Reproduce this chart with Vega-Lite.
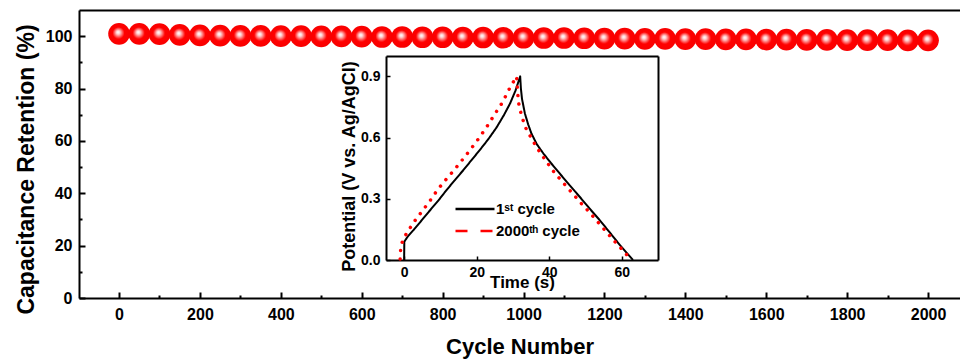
{
  "$schema": "https://vega.github.io/schema/vega-lite/v6.json",
  "autosize": {"type": "none"},
  "padding": {"left": 79, "top": 10, "right": 0, "bottom": 62},
  "width": 881,
  "height": 288,
  "background": "white",
  "config": {
    "view": {"stroke": null},
    "axis": {
      "labelFont": "Liberation Sans", "titleFont": "Liberation Sans",
      "labelFontWeight": "bold", "titleFontWeight": "bold",
      "labelColor": "black", "titleColor": "black",
      "domainColor": "black", "tickColor": "black", "grid": false,
      "labelOverlap": false, "labelFlush": false, "labelBound": false
    }
  },
  "datasets": {
    "main": [
      {"cycle": 0, "retention": 100.9}, {"cycle": 50, "retention": 100.9}, {"cycle": 100, "retention": 100.8},
      {"cycle": 150, "retention": 100.5}, {"cycle": 200, "retention": 100.3}, {"cycle": 250, "retention": 100.2},
      {"cycle": 300, "retention": 100.1}, {"cycle": 350, "retention": 100.1}, {"cycle": 400, "retention": 100.0},
      {"cycle": 450, "retention": 100.0}, {"cycle": 500, "retention": 99.9}, {"cycle": 550, "retention": 99.9},
      {"cycle": 600, "retention": 99.8}, {"cycle": 650, "retention": 99.7}, {"cycle": 700, "retention": 99.7},
      {"cycle": 750, "retention": 99.6}, {"cycle": 800, "retention": 99.6}, {"cycle": 850, "retention": 99.5},
      {"cycle": 900, "retention": 99.5}, {"cycle": 950, "retention": 99.4}, {"cycle": 1000, "retention": 99.4},
      {"cycle": 1050, "retention": 99.3}, {"cycle": 1100, "retention": 99.3}, {"cycle": 1150, "retention": 99.2},
      {"cycle": 1200, "retention": 99.1}, {"cycle": 1250, "retention": 99.1}, {"cycle": 1300, "retention": 99.0},
      {"cycle": 1350, "retention": 99.0}, {"cycle": 1400, "retention": 98.9}, {"cycle": 1450, "retention": 98.9},
      {"cycle": 1500, "retention": 98.8}, {"cycle": 1550, "retention": 98.8}, {"cycle": 1600, "retention": 98.7},
      {"cycle": 1650, "retention": 98.7}, {"cycle": 1700, "retention": 98.6}, {"cycle": 1750, "retention": 98.6},
      {"cycle": 1800, "retention": 98.5}, {"cycle": 1850, "retention": 98.5}, {"cycle": 1900, "retention": 98.5},
      {"cycle": 1950, "retention": 98.4}, {"cycle": 2000, "retention": 98.4}
    ],
    "inset": [
      {"i": 0, "t": 0, "v": 0, "series": "1ˢᵗ cycle"},
      {"i": 1, "t": 0.05, "v": 0.09, "series": "1ˢᵗ cycle"},
      {"i": 2, "t": 1.0, "v": 0.115, "series": "1ˢᵗ cycle"},
      {"i": 3, "t": 2.6, "v": 0.147, "series": "1ˢᵗ cycle"},
      {"i": 4, "t": 5.0, "v": 0.198, "series": "1ˢᵗ cycle"},
      {"i": 5, "t": 7.2, "v": 0.245, "series": "1ˢᵗ cycle"},
      {"i": 6, "t": 9.5, "v": 0.293, "series": "1ˢᵗ cycle"},
      {"i": 7, "t": 11.7, "v": 0.343, "series": "1ˢᵗ cycle"},
      {"i": 8, "t": 14.0, "v": 0.392, "series": "1ˢᵗ cycle"},
      {"i": 9, "t": 16.3, "v": 0.44, "series": "1ˢᵗ cycle"},
      {"i": 10, "t": 18.6, "v": 0.49, "series": "1ˢᵗ cycle"},
      {"i": 11, "t": 20.9, "v": 0.54, "series": "1ˢᵗ cycle"},
      {"i": 12, "t": 23.2, "v": 0.592, "series": "1ˢᵗ cycle"},
      {"i": 13, "t": 25.5, "v": 0.65, "series": "1ˢᵗ cycle"},
      {"i": 14, "t": 27.5, "v": 0.71, "series": "1ˢᵗ cycle"},
      {"i": 15, "t": 29.2, "v": 0.767, "series": "1ˢᵗ cycle"},
      {"i": 16, "t": 30.7, "v": 0.83, "series": "1ˢᵗ cycle"},
      {"i": 17, "t": 32.0, "v": 0.9, "series": "1ˢᵗ cycle"},
      {"i": 18, "t": 32.2, "v": 0.84, "series": "1ˢᵗ cycle"},
      {"i": 19, "t": 32.5, "v": 0.79, "series": "1ˢᵗ cycle"},
      {"i": 20, "t": 33.3, "v": 0.718, "series": "1ˢᵗ cycle"},
      {"i": 21, "t": 34.2, "v": 0.665, "series": "1ˢᵗ cycle"},
      {"i": 22, "t": 35.1, "v": 0.62, "series": "1ˢᵗ cycle"},
      {"i": 23, "t": 36.6, "v": 0.567, "series": "1ˢᵗ cycle"},
      {"i": 24, "t": 38.4, "v": 0.522, "series": "1ˢᵗ cycle"},
      {"i": 25, "t": 40.5, "v": 0.475, "series": "1ˢᵗ cycle"},
      {"i": 26, "t": 42.9, "v": 0.424, "series": "1ˢᵗ cycle"},
      {"i": 27, "t": 45.6, "v": 0.367, "series": "1ˢᵗ cycle"},
      {"i": 28, "t": 48.4, "v": 0.31, "series": "1ˢᵗ cycle"},
      {"i": 29, "t": 51.1, "v": 0.253, "series": "1ˢᵗ cycle"},
      {"i": 30, "t": 53.9, "v": 0.196, "series": "1ˢᵗ cycle"},
      {"i": 31, "t": 56.7, "v": 0.135, "series": "1ˢᵗ cycle"},
      {"i": 32, "t": 59.5, "v": 0.073, "series": "1ˢᵗ cycle"},
      {"i": 33, "t": 61.3, "v": 0.036, "series": "1ˢᵗ cycle"},
      {"i": 34, "t": 63.1, "v": 0, "series": "1ˢᵗ cycle"},
      {"i": 0, "t": -1.1, "v": 0.005, "series": "2000ᵗʰ cycle"},
      {"i": 1, "t": -0.9, "v": 0.073, "series": "2000ᵗʰ cycle"},
      {"i": 2, "t": 0.55, "v": 0.127, "series": "2000ᵗʰ cycle"},
      {"i": 3, "t": 2.57, "v": 0.183, "series": "2000ᵗʰ cycle"},
      {"i": 4, "t": 4.86, "v": 0.237, "series": "2000ᵗʰ cycle"},
      {"i": 5, "t": 6.97, "v": 0.286, "series": "2000ᵗʰ cycle"},
      {"i": 6, "t": 9.17, "v": 0.343, "series": "2000ᵗʰ cycle"},
      {"i": 7, "t": 11.56, "v": 0.395, "series": "2000ᵗʰ cycle"},
      {"i": 8, "t": 13.76, "v": 0.44, "series": "2000ᵗʰ cycle"},
      {"i": 9, "t": 16.15, "v": 0.493, "series": "2000ᵗʰ cycle"},
      {"i": 10, "t": 18.35, "v": 0.543, "series": "2000ᵗʰ cycle"},
      {"i": 11, "t": 20.7, "v": 0.599, "series": "2000ᵗʰ cycle"},
      {"i": 12, "t": 22.9, "v": 0.656, "series": "2000ᵗʰ cycle"},
      {"i": 13, "t": 25.1, "v": 0.718, "series": "2000ᵗʰ cycle"},
      {"i": 14, "t": 27.2, "v": 0.775, "series": "2000ᵗʰ cycle"},
      {"i": 15, "t": 28.8, "v": 0.832, "series": "2000ᵗʰ cycle"},
      {"i": 16, "t": 30.6, "v": 0.888, "series": "2000ᵗʰ cycle"},
      {"i": 17, "t": 31.0, "v": 0.9, "series": "2000ᵗʰ cycle"},
      {"i": 18, "t": 31.5, "v": 0.775, "series": "2000ᵗʰ cycle"},
      {"i": 19, "t": 32.4, "v": 0.705, "series": "2000ᵗʰ cycle"},
      {"i": 20, "t": 33.6, "v": 0.645, "series": "2000ᵗʰ cycle"},
      {"i": 21, "t": 35.4, "v": 0.587, "series": "2000ᵗʰ cycle"},
      {"i": 22, "t": 37.2, "v": 0.535, "series": "2000ᵗʰ cycle"},
      {"i": 23, "t": 39.3, "v": 0.481, "series": "2000ᵗʰ cycle"},
      {"i": 24, "t": 41.4, "v": 0.429, "series": "2000ᵗʰ cycle"},
      {"i": 25, "t": 43.9, "v": 0.378, "series": "2000ᵗʰ cycle"},
      {"i": 26, "t": 46.3, "v": 0.329, "series": "2000ᵗʰ cycle"},
      {"i": 27, "t": 48.7, "v": 0.28, "series": "2000ᵗʰ cycle"},
      {"i": 28, "t": 51.2, "v": 0.232, "series": "2000ᵗʰ cycle"},
      {"i": 29, "t": 53.7, "v": 0.18, "series": "2000ᵗʰ cycle"},
      {"i": 30, "t": 56.1, "v": 0.131, "series": "2000ᵗʰ cycle"},
      {"i": 31, "t": 58.5, "v": 0.082, "series": "2000ᵗʰ cycle"},
      {"i": 32, "t": 61.1, "v": 0.033, "series": "2000ᵗʰ cycle"},
      {"i": 33, "t": 62.3, "v": 0.0, "series": "2000ᵗʰ cycle"}
    ]
  },
  "layer": [
    {
      "data": {"name": "main"},
      "mark": {
        "type": "point", "filled": true, "size": 470, "opacity": 1, "strokeWidth": 0,
        "fill": {
          "gradient": "radial", "x1": 0.45, "y1": 0.42, "r1": 0, "x2": 0.5, "y2": 0.5, "r2": 0.5,
          "stops": [
            {"offset": 0, "color": "#ffffff"},
            {"offset": 0.15, "color": "#ffd8d8"},
            {"offset": 0.55, "color": "#ff0000"},
            {"offset": 1, "color": "#f80000"}
          ]
        }
      },
      "encoding": {
        "x": {
          "field": "cycle", "type": "quantitative",
          "scale": {"domain": [-99, 2079], "nice": false, "zero": false},
          "axis": {
            "orient": "bottom",
            "values": [0, 100, 200, 300, 400, 500, 600, 700, 800, 900, 1000, 1100, 1200, 1300, 1400, 1500, 1600, 1700, 1800, 1900, 2000],
            "format": "d",
            "labelExpr": "datum.value % 200 === 0 ? datum.label : ''",
            "tickSize": {"condition": {"test": "datum.value % 200 === 0", "value": -6}, "value": -3},
            "tickWidth": 2, "domainWidth": 2,
            "labelFontSize": 16, "labelPadding": 14,
            "title": "Cycle Number", "titleFontSize": 22,
            "titleBaseline": "alphabetic", "titleY": 55
          }
        },
        "y": {
          "field": "retention", "type": "quantitative",
          "scale": {"domain": [0, 110], "nice": false, "zero": false},
          "axis": {
            "orient": "left",
            "values": [0, 10, 20, 30, 40, 50, 60, 70, 80, 90, 100],
            "labelExpr": "datum.value % 20 === 0 ? datum.label : ''",
            "tickSize": {"condition": {"test": "datum.value % 20 === 0", "value": -6}, "value": -3},
            "tickWidth": 2, "domainWidth": 2,
            "labelFontSize": 16, "labelPadding": 13,
            "title": "Capacitance Retention (%)", "titleFontSize": 23,
            "titleBaseline": "alphabetic", "titleAlign": "center", "titleAngle": -90,
            "titleX": -46, "titleY": 159
          }
        }
      }
    },
    {
      "data": {"name": "inset"},
      "transform": [{"filter": "datum.series === '1ˢᵗ cycle'"}],
      "mark": {"type": "line", "strokeWidth": 2, "strokeJoin": "round"},
      "encoding": {
        "x": {
          "field": "t", "type": "quantitative",
          "scale": {"domain": [-5, 70], "range": [307, 579], "nice": false, "zero": false},
          "axis": {
            "orient": "bottom", "offset": -38, "values": [0, 20, 40, 60],
            "tickSize": -4, "tickWidth": 1.5, "domainWidth": 2,
            "labelFontSize": 14, "labelPadding": 9,
            "title": "Time (s)", "titleFontSize": 17,
            "titleBaseline": "alphabetic", "titleY": 27
          }
        },
        "y": {
          "field": "v", "type": "quantitative",
          "scale": {"domain": [0, 1], "range": [250, 46], "nice": false, "zero": false},
          "axis": {
            "orient": "left", "offset": -307, "values": [0, 0.3, 0.6, 0.9], "format": ".1f",
            "tickSize": -4, "tickWidth": 1.5, "domainWidth": 2,
            "labelFontSize": 14, "labelPadding": 10,
            "title": "Potential (V vs. Ag/AgCl)", "titleFontSize": 18,
            "titleBaseline": "alphabetic", "titleAlign": "center", "titleAngle": -90,
            "titleX": -32, "titleY": 156
          }
        },
        "color": {
          "field": "series", "type": "nominal",
          "scale": {"domain": ["1ˢᵗ cycle", "2000ᵗʰ cycle"], "range": ["#000000", "#ff0000"]},
          "legend": {
            "orient": "none", "legendX": 375, "legendY": 188, "title": null,
            "symbolType": "stroke", "symbolSize": 1521, "symbolStrokeWidth": 2.5,
            "clipHeight": 22, "labelFontSize": 15, "labelFont": "Liberation Sans",
            "labelFontWeight": "bold", "labelColor": "black", "labelOffset": 0,
            "padding": 0, "rowPadding": 0, "offset": 0
          }
        },
        "strokeDash": {
          "field": "series", "type": "nominal",
          "scale": {"domain": ["1ˢᵗ cycle", "2000ᵗʰ cycle"], "range": [[1, 0], [12, 13]]}
        },
        "order": {"field": "i", "type": "quantitative"}
      }
    },
    {
      "data": {"name": "inset"},
      "transform": [{"filter": "datum.series === '2000ᵗʰ cycle'"}],
      "mark": {"type": "line", "color": "#ff0000", "strokeWidth": 3.5, "strokeCap": "round", "strokeDash": [0.01, 8.5]},
      "encoding": {
        "x": {
          "field": "t", "type": "quantitative",
          "scale": {"domain": [-5, 70], "range": [307, 579], "nice": false, "zero": false},
          "axis": null
        },
        "y": {
          "field": "v", "type": "quantitative",
          "scale": {"domain": [0, 1], "range": [250, 46], "nice": false, "zero": false},
          "axis": null
        },
        "order": {"field": "i", "type": "quantitative"}
      }
    },
    {
      "data": {"name": "inset"},
      "mark": {"type": "point", "opacity": 0},
      "encoding": {
        "x": {
          "field": "t", "type": "quantitative",
          "scale": {"domain": [-5, 70], "range": [307, 579], "nice": false, "zero": false},
          "axis": {"orient": "top", "offset": -46, "ticks": false, "labels": false, "domainWidth": 2, "title": null}
        },
        "y": {
          "field": "v", "type": "quantitative",
          "scale": {"domain": [0, 1], "range": [250, 46], "nice": false, "zero": false},
          "axis": {"orient": "right", "offset": -302, "ticks": false, "labels": false, "domainWidth": 2, "title": null}
        }
      }
    },
    {
      "data": {"name": "main"},
      "mark": {"type": "point", "opacity": 0},
      "encoding": {
        "x": {
          "field": "cycle", "type": "quantitative",
          "scale": {"domain": [-99, 2079], "nice": false, "zero": false},
          "axis": {"orient": "top", "ticks": false, "labels": false, "domainWidth": 2, "title": null}
        }
      }
    }
  ],
  "resolve": {
    "scale": {"x": "independent", "y": "independent"},
    "axis": {"x": "independent", "y": "independent"}
  }
}
